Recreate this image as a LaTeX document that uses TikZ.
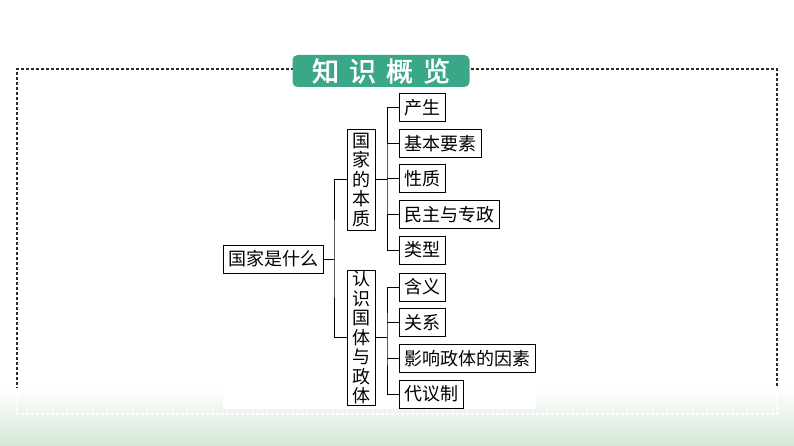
\documentclass[tikz,border=0pt]{standalone}
\usepackage{fontspec}
\newfontfamily\cjk{Noto Sans CJK SC}
\newfontfamily\cjkb{Noto Sans CJK SC}[FakeBold=2]
\definecolor{badge}{HTML}{3AA888}
\definecolor{bottomgreen}{HTML}{D5E6D5}
\definecolor{framegray}{HTML}{2A2A2A}
\tikzset{
  box/.style={draw=black, line width=1pt, fill=white, inner xsep=5pt, inner ysep=0pt,
    minimum height=28pt, anchor=west, font=\cjk\fontsize{18}{18}\selectfont},
  vbox/.style={draw=black, line width=1pt, fill=white, inner sep=0pt, minimum width=28pt,
    align=center, font=\cjk\fontsize{18}{19.5}\selectfont},
  link/.style={line width=1pt, black},
  frameline/.style={line width=1.1pt, dash pattern=on 3pt off 2pt}
}
\begin{document}
\begin{tikzpicture}[x=1pt,y=-1pt]
\useasboundingbox (0,0) rectangle (794,446);
\fill[white] (0,0) rectangle (794,446);
% dashed frame
\draw[frameline, framegray] (17,390) -- (17,69) -- (777,69) -- (777,390);
% bottom gradient
\shade[top color=white, bottom color=bottomgreen] (0,388) rectangle (794,446);
\draw[frameline, white] (17,388) -- (17,414) -- (777,414) -- (777,388);
% white panel behind diagram
\fill[white] (223,380) rectangle (536,409);
% title badge
\node[fill=badge, rounded corners=5pt, minimum width=177pt, minimum height=32pt, inner sep=0pt,
  text=white, font=\cjkb\fontsize{27}{27}\selectfont] (title) at (381,71) {知\hspace{10pt}识\hspace{10pt}概\hspace{10pt}览};
% nodes
\node[box] (root) at (223,259) {国家是什么};
\node[vbox, minimum height=101pt] (benzhi) at (361,180) {国\\家\\的\\本\\质};
\node[vbox, minimum height=135pt] (renshi) at (361,337.5) {认\\识\\国\\体\\与\\政\\体};
\node[box] (a1) at (399,108) {产生};
\node[box] (a2) at (399,143.5) {基本要素};
\node[box] (a3) at (399,179) {性质};
\node[box] (a4) at (399,214.5) {民主与专政};
\node[box] (a5) at (399,250) {类型};
\node[box] (b1) at (399,287) {含义};
\node[box] (b2) at (399,322.5) {关系};
\node[box] (b3) at (399,358.5) {影响政体的因素};
\node[box] (b4) at (399,394) {代议制};
% connectors
\coordinate (t0) at (334,259);
\draw[link] (root.east) -- (t0);
\draw[link] (benzhi.west) -| (t0) |- (renshi.west);
\coordinate (t1) at (387,180);
\draw[link] (benzhi.east) -- (t1);
\draw[link] (a1.west) -| (t1) |- (a5.west);
\foreach \n in {a2,a3,a4} \draw[link] (\n.west) -- (t1 |- \n.west);
\coordinate (t2) at (387,337.5);
\draw[link] (renshi.east) -- (t2);
\draw[link] (b1.west) -| (t2) |- (b4.west);
\foreach \n in {b2,b3} \draw[link] (\n.west) -- (t2 |- \n.west);
\end{tikzpicture}
\end{document}
